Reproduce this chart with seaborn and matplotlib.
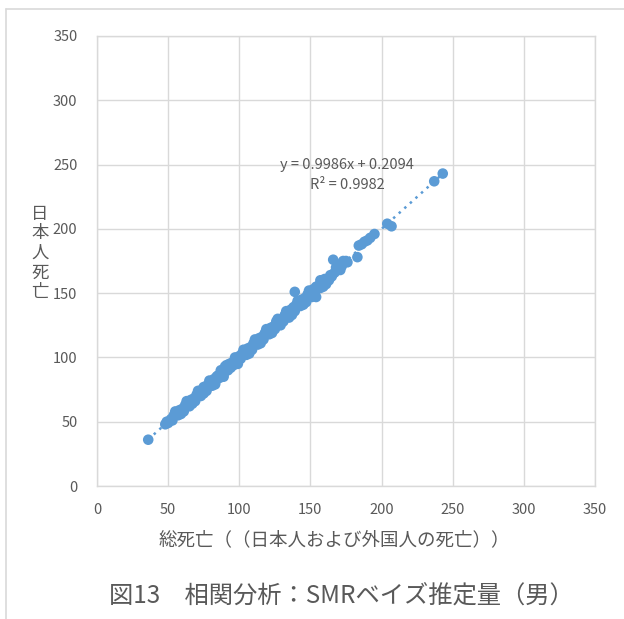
import numpy as np
import pandas as pd
import matplotlib
matplotlib.use("Agg")
import matplotlib.pyplot as plt
from matplotlib.lines import Line2D
import seaborn as sns

# SMR (Bayesian estimates, male): all deaths vs. Japanese-only deaths
total_smr = [36, 48, 49, 50, 52, 53, 54, 56, 57, 58, 60, 61, 62, 64, 65, 66, 68, 69,
             70, 72, 73, 74, 75, 76, 77, 78, 80, 81, 82, 83, 84, 85, 86, 88, 89, 90,
             91, 92, 93, 94, 95, 96, 98, 99, 100, 101, 102, 104, 105, 106, 108, 109,
             110, 112, 113, 114, 116, 117, 118, 120, 121, 122, 124, 125, 126, 127,
             128, 130, 131, 132, 134, 135, 136, 138, 139, 139, 140, 142, 143, 144,
             146, 147, 148, 150, 151, 152, 154, 154, 156, 157, 158, 159, 160, 162,
             163, 164, 166, 165, 167, 168, 170, 172, 173, 175, 176, 183, 184, 186,
             188, 190, 192, 195, 204, 207, 237, 243,
             55, 59, 63, 67, 71, 75, 79, 83, 87, 89, 97, 99, 103, 107, 111, 115,
             119, 123, 127, 129, 133, 137, 141, 145, 149, 153, 157, 161, 169, 171]
japanese_smr = [36, 48, 50, 49, 52, 51, 55, 56, 55, 59, 60, 58, 63, 64, 62, 67, 68, 66,
                71, 72, 70, 75, 77, 76, 74, 79, 80, 78, 83, 80, 85, 86, 84, 89, 87, 93,
                94, 90, 95, 92, 96, 94, 99, 97, 101, 99, 103, 104, 102, 107, 108, 106,
                111, 112, 110, 115, 116, 114, 119, 120, 118, 123, 124, 122, 128, 125,
                129, 130, 128, 133, 134, 131, 137, 139, 151, 136, 141, 142, 140, 145,
                146, 143, 149, 150, 147, 153, 147, 155, 156, 154, 159, 155, 161, 161,
                160, 164, 176, 163, 166, 170, 172, 171, 175, 175, 174, 178, 187, 188,
                190, 191, 193, 196, 204, 202, 237, 243,
                58, 56, 66, 64, 74, 72, 82, 79, 90, 85, 100, 95, 106, 103, 114, 111,
                122, 119, 130, 125, 136, 133, 144, 141, 152, 149, 160, 157, 172, 168]

# Linear trend reported on the chart
slope, intercept, r2 = 0.9986, 0.2094, 0.9982

axis_ticks = [0, 50, 100, 150, 200, 250, 300, 350]

df = pd.DataFrame({"total": total_smr, "japanese": japanese_smr})

sns.set_theme(style="white")
plt.rcParams["font.family"] = ["Noto Sans CJK JP", "DejaVu Sans"]

blue = "#5B9BD5"
grid_c = "#D9D9D9"
text_c = "#595959"

fig = plt.figure(figsize=(6.24, 6.19), dpi=100)
ax = fig.add_axes([97 / 624, 1 - 486 / 619, 498 / 624, 450 / 619])

sns.scatterplot(data=df, x="total", y="japanese", ax=ax, color=blue,
                s=58, edgecolor="none", linewidth=0, zorder=3)

trend_x = np.array([min(total_smr), max(total_smr)])
trend = pd.DataFrame({"x": trend_x, "y": slope * trend_x + intercept})
sns.lineplot(data=trend, x="x", y="y", ax=ax, color=blue, lw=1.8,
             linestyle=(0, (1, 2)), zorder=2)

ax.set_xlim(0, 350)
ax.set_ylim(0, 350)
ax.set_xticks(axis_ticks)
ax.set_yticks(axis_ticks)
ax.grid(True, color=grid_c, lw=1.0)
ax.set_axisbelow(True)
for sp in ax.spines.values():
    sp.set_color(grid_c)
    sp.set_linewidth(1.0)
ax.tick_params(axis="both", length=0, labelsize=10.5, colors=text_c, pad=12)
ax.tick_params(axis="y", pad=14)
ax.set_xlabel("")
ax.set_ylabel("")

fig.text(347 / 624, 1 - 165 / 619, f"y = {slope}x + {intercept}",
         ha="center", va="center", fontsize=10.5, color=text_c)
fig.text(347 / 624, 1 - 185 / 619, f"R² = {r2}",
         ha="center", va="center", fontsize=10.5, color=text_c)

# Axis titles
fig.text(334 / 624, 1 - 540 / 619, "総死亡（（日本人および外国人の死亡））",
         ha="center", va="center", fontsize=13.3, color=text_c)
fig.text(40 / 624, 1 - 253 / 619, "\n".join("日本人死亡"),
         ha="center", va="center", fontsize=12.5, color=text_c, linespacing=1.12)

# Caption
fig.text(341 / 624, 1 - 597 / 619, "図13　相関分析：SMRベイズ推定量（男）",
         ha="center", va="center", fontsize=17.5, color=text_c)

# Chart frame (left and top edges)
fig.add_artist(Line2D([6 / 624, 6 / 624], [0, 1 - 9 / 619], color=grid_c, lw=1.2,
                      transform=fig.transFigure))
fig.add_artist(Line2D([6 / 624, 1], [1 - 9 / 619, 1 - 9 / 619], color=grid_c, lw=1.2,
                      transform=fig.transFigure))

fig.savefig("out.png", dpi=100)
